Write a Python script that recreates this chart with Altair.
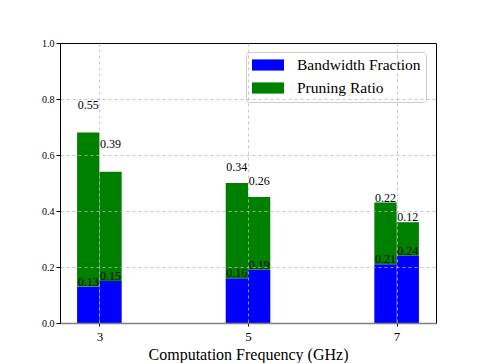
import altair as alt
import pandas as pd

frequencies = [3, 5, 7]
bandwidth_left = [0.13, 0.16, 0.21]
bandwidth_right = [0.15, 0.19, 0.24]
pruning_left = [0.55, 0.34, 0.22]
pruning_right = [0.39, 0.26, 0.12]
series_names = ["Bandwidth Fraction", "Pruning Ratio"]
series_colors = ["#0000ff", "#008000"]
y_ticks = [0.0, 0.2, 0.4, 0.6, 0.8, 1.0]

rows = []
for i, f in enumerate(frequencies):
    for side, bw, pr in [(0, bandwidth_left[i], pruning_left[i]),
                         (1, bandwidth_right[i], pruning_right[i])]:
        rows.append(dict(freq=f, side=side, series=series_names[0], lo=0.0, hi=bw, val=bw))
        rows.append(dict(freq=f, side=side, series=series_names[1], lo=bw, hi=bw + pr, val=pr))
df = pd.DataFrame(rows)

FONT = "Liberation Serif"
BAR_W = 0.3

base = alt.Chart(df).transform_calculate(
    x0=f"datum.freq + (datum.side - 1) * {BAR_W}",
    x1=f"datum.freq + datum.side * {BAR_W}",
    xc=f"datum.freq + (datum.side - 0.5) * {BAR_W}",
    ly="datum.series == 'Pruning Ratio' ? datum.hi + (7 - datum.freq) * 0.02 : datum.hi",
)

xscale = alt.Scale(domain=[2.47, 7.53], nice=False, zero=False)
yscale = alt.Scale(domain=[0, 1], nice=False)

bars = base.mark_bar(strokeWidth=0).encode(
    x=alt.X("x0:Q", scale=xscale,
            axis=alt.Axis(values=frequencies, format="d", title="Computation Frequency (GHz)",
                          labelFont=FONT, titleFont=FONT,
                          labelFontSize=13, titleFontSize=16, titleFontWeight="normal",
                          titleBaseline="alphabetic", titleY=36,
                          tickSize=3, labelPadding=4,
                          domainColor="#808080", domainWidth=1.5, zindex=1,
                          grid=True)),
    x2="x1:Q",
    y=alt.Y("lo:Q", scale=yscale,
            axis=alt.Axis(values=y_ticks, format=".1f", title=None,
                          labelFont=FONT, labelFontSize=10, tickSize=4, labelPadding=2,
                          domainColor="#000000", zindex=1, grid=True,
                          gridOpacity={"condition": {"test": "datum.value >= 1", "value": 0},
                                       "value": 1})),
    y2="hi:Q",
    color=alt.Color("series:N",
                    scale=alt.Scale(domain=series_names, range=series_colors),
                    legend=alt.Legend(title=None, orient="none", legendX=186, legendY=9,
                                      symbolType="M-0.875,-0.7H3.125V0.7H-0.875Z", symbolSize=256,
                                      symbolStrokeWidth=0, labelFont=FONT, labelFontSize=15.5,
                                      labelOffset=30, rowPadding=6, padding=5,
                                      strokeColor="#cccccc", fillColor="white",
                                      cornerRadius=3)),
)

labels = base.mark_text(baseline="alphabetic", align="center", fontSize=12, font=FONT,
                        dy=-1, color="black").encode(
    x=alt.X("xc:Q", scale=xscale),
    y=alt.Y("ly:Q", scale=yscale),
    text=alt.Text("val:Q", format=".2f"),
)

chart = alt.layer(bars, labels).properties(
    width=376, height=280,
    autosize=alt.AutoSizeParams(type="none"),
    padding={"left": 52, "top": 35, "right": 10, "bottom": 40},
).configure(
    font=FONT,
).configure_view(
    stroke="black", strokeWidth=1,
).configure_axis(
    labelFont=FONT, titleFont=FONT, labelColor="black", titleColor="black",
    gridColor="#b8b8b8", gridDash=[3, 3], gridWidth=0.8, tickColor="black",
)

chart.save("out.html", embed_options={"renderer": "svg", "actions": False})
